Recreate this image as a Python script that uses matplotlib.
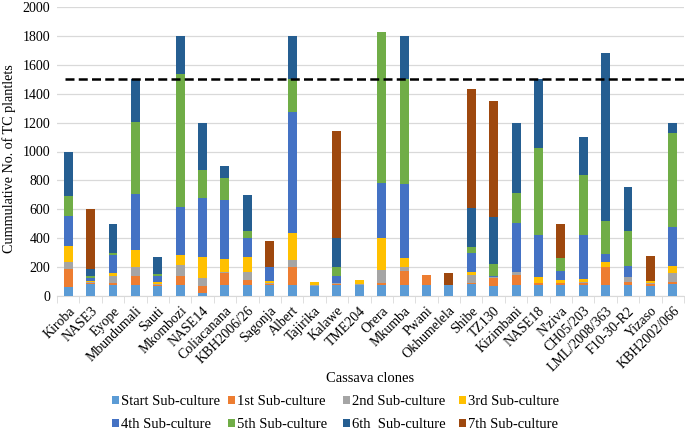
import numpy as np
import matplotlib
matplotlib.use("Agg")
import matplotlib.pyplot as plt

plt.rcParams['font.family'] = ['Liberation Serif', 'DejaVu Serif']

clones = ["Kiroba", "NASE3", "Eyope", "Mbundumali", "Sauti", "Mkombozi", "NASE14",
          "Coliacanana", "KBH2006/26", "Sagonja", "Albert", "Tajirika", "Kalawe",
          "TME204", "Orera", "Mkumba", "Pwani", "Okhumelela", "Shibe", "TZ130",
          "Kizimbani", "NASE18", "N'ziva", "CH05/203", "LML/2008/363", "F10-30-R2",
          "Yizaso", "KBH2002/066"]

# plantlets added at each sub-culture
start = [62, 80, 74, 78, 70, 76, 23, 74, 78, 78, 76, 72, 76, 76, 76, 76, 76, 76, 81, 71, 74, 76, 76, 76, 76, 76, 72, 81]
sub1 = [123, 8, 18, 60, 8, 62, 46, 87, 33, 8, 123, 0, 5, 0, 16, 97, 67, 0, 7, 55, 71, 12, 12, 14, 127, 23, 14, 18]
sub2 = [50, 12, 46, 65, 7, 74, 53, 5, 53, 5, 50, 3, 11, 8, 88, 26, 0, 0, 60, 5, 21, 0, 0, 8, 0, 30, 3, 58]
sub3 = [110, 5, 19, 115, 15, 72, 146, 90, 108, 12, 185, 25, 0, 26, 223, 62, 0, 0, 16, 0, 0, 41, 25, 22, 35, 0, 13, 51]
sub4 = [210, 20, 127, 386, 40, 334, 408, 408, 131, 100, 842, 0, 46, 0, 377, 512, 0, 0, 131, 5, 337, 293, 60, 302, 53, 79, 0, 272]
sub5 = [140, 12, 16, 498, 10, 918, 196, 150, 47, 0, 226, 0, 65, 0, 1049, 727, 0, 0, 46, 85, 212, 600, 88, 415, 228, 242, 0, 646]
sub6 = [305, 50, 200, 298, 118, 264, 328, 86, 250, 0, 298, 0, 200, 0, 0, 300, 0, 0, 270, 323, 485, 478, 5, 263, 1165, 306, 5, 74]
sub7 = [0, 413, 0, 0, 0, 0, 0, 0, 0, 180, 0, 0, 742, 0, 0, 0, 0, 81, 819, 806, 0, 0, 232, 0, 0, 0, 173, 0]

series = [start, sub1, sub2, sub3, sub4, sub5, sub6, sub7]
labels = ["Start Sub-culture", "1st Sub-culture", "2nd Sub-culture", "3rd Sub-culture",
          "4th Sub-culture", "5th Sub-culture", "6th  Sub-culture", "7th Sub-culture"]
colors = ["#5B9BD5", "#ED7D31", "#A5A5A5", "#FFC000",
          "#4472C4", "#70AD47", "#255E91", "#9E480E"]
target = 1500

fig = plt.figure(figsize=(6.85, 4.3), dpi=100)
ax = fig.add_axes([57 / 685, 1 - 296 / 430, 627 / 685, 289 / 430])

x = np.arange(len(clones))
bottom = np.zeros(len(clones))
handles = []
for vals, lab, col in zip(series, labels, colors):
    vals = np.array(vals, dtype=float)
    b = ax.bar(x, vals, 0.40, bottom=bottom, color=col, label=lab, zorder=3)
    handles.append(b)
    bottom += vals

ax.hlines(target, -0.15, len(clones) - 0.5, color="black", lw=1.8,
          linestyles=[(0, (3.6, 1.7))], zorder=4)

ax.set_xlim(-0.5, len(clones) - 0.5)
ax.set_ylim(0, 2000)
ax.set_yticks(np.arange(0, 2001, 200))
ax.yaxis.grid(True, color="#D9D9D9", lw=0.9, zorder=0)
ax.tick_params(axis="y", length=0, labelsize=10, pad=5)
for s in ["top", "right", "left"]:
    ax.spines[s].set_visible(False)
ax.spines["bottom"].set_color("#D9D9D9")

ax.set_xticks(x)
ax.set_xticklabels(clones, rotation=45, ha="right", rotation_mode="anchor", fontsize=10)
ax.tick_params(axis="x", length=0, pad=6)
ax.set_xticks(np.arange(-0.5, len(clones), 1), minor=True)
ax.tick_params(axis="x", which="minor", length=5, color="#D9D9D9")

ax.set_ylabel("Cummulative No. of TC plantlets", fontsize=10.2, labelpad=8)
ax.yaxis.set_label_coords(-0.065, 0.475)

fig.text(370 / 685, 1 - 379 / 430, "Cassava clones", ha="center", va="center", fontsize=10.5)

# legend laid out like Excel: equal-width columns, two rows
col_x = [112, 228, 343, 459]
for c in range(4):
    leg = fig.legend([handles[c], handles[c + 4]], [labels[c], labels[c + 4]],
                     loc="upper left", bbox_to_anchor=(col_x[c] / 685, 1 - 395 / 430),
                     frameon=False, fontsize=10.5, handlelength=0.45, handleheight=0.45,
                     handletextpad=0.2, labelspacing=0.68, borderpad=0, borderaxespad=0)

fig.savefig("out.png", dpi=100)
